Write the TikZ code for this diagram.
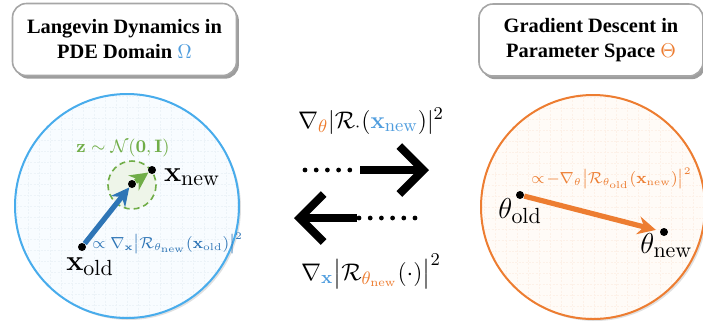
\documentclass[tikz,border=0pt]{standalone}
\usepackage{amsmath}
\usepackage[no-math]{fontspec}
\setmainfont{Liberation Serif}
\usetikzlibrary{arrows.meta,shadows}
\definecolor{cblue}{RGB}{46,117,182}
\definecolor{lblue}{RGB}{79,157,222}
\definecolor{rimblue}{RGB}{72,172,236}
\definecolor{corange}{RGB}{237,125,49}
\definecolor{cgreen}{RGB}{112,173,71}
\definecolor{paleblue}{RGB}{248,252,255}
\definecolor{paleorange}{RGB}{255,251,247}
\tikzset{px/.style={x=0.5pt,y=-0.5pt},
  titlebox/.style={draw=black!35,line width=0.8pt,fill=white,rounded corners=7pt,
    minimum width=112pt,minimum height=36pt,align=center,
    font=\fontsize{10.2}{12.5}\selectfont\bfseries,
    drop shadow={shadow xshift=1.2pt,shadow yshift=-1.6pt,fill=black!55,opacity=0.7}},
  dotnode/.style={circle,fill=black,inner sep=0pt,minimum size=4pt},
  gridline/.style={line width=0.3pt,dash pattern=on 1pt off 0.7pt},
  vecarrow/.style={line width=2.6pt,-{Stealth[length=9pt,width=9pt]}},
  bigarrow/.style={line width=4pt,-{Straight Barb[length=12pt,width=24pt]}},
  dotline/.style={line width=2.4pt,line cap=round,dash pattern=on 0pt off 5.6pt},
  smalllabel/.style={anchor=base west,inner sep=1pt,font=\fontsize{7.6}{9}\selectfont}}

\begin{document}
\begin{tikzpicture}[px]
    \useasboundingbox (0,0) rectangle (703,329);
    % titles
    \node[titlebox] (tleft) at (124.5,39.5) {Langevin Dynamics in\\PDE Domain {\color{lblue}$\Omega$}};
    \node[titlebox] (tright) at (591,40) {Gradient Descent in\\Parameter Space {\color{corange}$\Theta$}};
    % PDE domain
    \fill[black!12] (129,208) circle (112);
    \fill[paleblue] (127,206) circle (112);
    \begin{scope}
      \clip (127,206) circle (112);
      \foreach \k in {0,...,21} {
        \draw[gridline,cblue!9] ({17+11*\k},90) -- ({17+11*\k},320);
        \draw[gridline,cblue!9] (10,{96+11*\k}) -- (245,{96+11*\k});
      }
    \end{scope}
    \draw[rimblue,line width=1pt] (127,206) circle (112);
    \fill[cgreen!12] (132,185) circle (24);
    \draw[cgreen,line width=0.8pt,dash pattern=on 3pt off 2pt] (132,185) circle (24);
    \node[dotnode] (xold) at (82,247) {};
    \node[dotnode] (xmid) at (132,184) {};
    \node[dotnode] (xnew) at (152,170) {};
    \draw[vecarrow,cblue] (xold) -- (xmid);
    \draw[vecarrow,cgreen] (xmid) -- (xnew);
    \node[anchor=base west,font=\fontsize{15}{18}\selectfont] (lxnew) at (157,181) {$\mathbf{x}_{\mathrm{new}}$};
    \node[anchor=base west,inner sep=1pt,font=\fontsize{15}{18}\selectfont] (lxold) at (64,270) {$\mathbf{x}_{\mathrm{old}}$};
    \node[smalllabel,cgreen,font=\fontsize{9}{11}\selectfont] (lnoise) at (74,152) {$\mathbf{z}\sim\mathcal{N}(\mathbf{0},\mathbf{I})$};
    \node[smalllabel,cblue] (lstep) at (90,248)
      {$\propto\nabla_{\mathbf{x}}\bigl|\mathcal{R}_{\theta_{\mathrm{new}}}(\mathbf{x}_{\mathrm{old}})\bigr|^2$};
    % parameter space
    \fill[black!12] (595,209) circle (112);
    \fill[paleorange] (593,207) circle (112);
    \begin{scope}
      \clip (593,207) circle (112);
      \foreach \k in {0,...,21} {
        \draw[gridline,corange!11] ({484+11*\k},90) -- ({484+11*\k},320);
        \draw[gridline,corange!11] (478,{97+11*\k}) -- (710,{97+11*\k});
      }
    \end{scope}
    \draw[corange,line width=1pt] (593,207) circle (112);
    \node[dotnode] (told) at (520,195) {};
    \node[dotnode] (tnew) at (664,232) {};
    \draw[vecarrow,corange,shorten >=2pt] (told) -- (tnew);
    \node[anchor=base west,inner sep=1pt,font=\fontsize{15}{18}\selectfont] (ltold) at (496,218) {$\theta_{\mathrm{old}}$};
    \node[anchor=base west,inner sep=1pt,font=\fontsize{15}{18}\selectfont] (ltnew) at (638,253) {$\theta_{\mathrm{new}}$};
    \node[smalllabel,corange] (lgrad) at (529,183)
      {$\propto\!-\nabla_{\theta}\bigl|\mathcal{R}_{\theta_{\mathrm{old}}}(\mathbf{x}_{\mathrm{new}})\bigr|^2$};
    % coupling arrows
    \coordinate (rs) at (305,170);
    \coordinate (rm) at (360,170);
    \coordinate (re) at (429,170);
    \coordinate (ls) at (415,218);
    \coordinate (lm) at (357,218);
    \coordinate (le) at (294,218);
    \draw[dotline] (rs) -- (rm);
    \draw[bigarrow] (rm) -- (re);
    \draw[dotline] (ls) -- (lm);
    \draw[bigarrow] (lm) -- (le);
    \node[anchor=base west,font=\fontsize{13}{15}\selectfont] (ltop) at (291,128)
      {$\nabla_{\color{corange}\theta}|\mathcal{R}_{\cdot}({\color{lblue}\mathbf{x}_{\mathrm{new}}})|^2$};
    \node[anchor=base west,font=\fontsize{13}{15}\selectfont] (lbot) at (294,280)
      {$\nabla_{\color{lblue}\mathbf{x}}\bigl|\mathcal{R}_{\color{corange}\theta_{\mathrm{new}}}(\cdot)\bigr|^2$};
\end{tikzpicture}
\end{document}
